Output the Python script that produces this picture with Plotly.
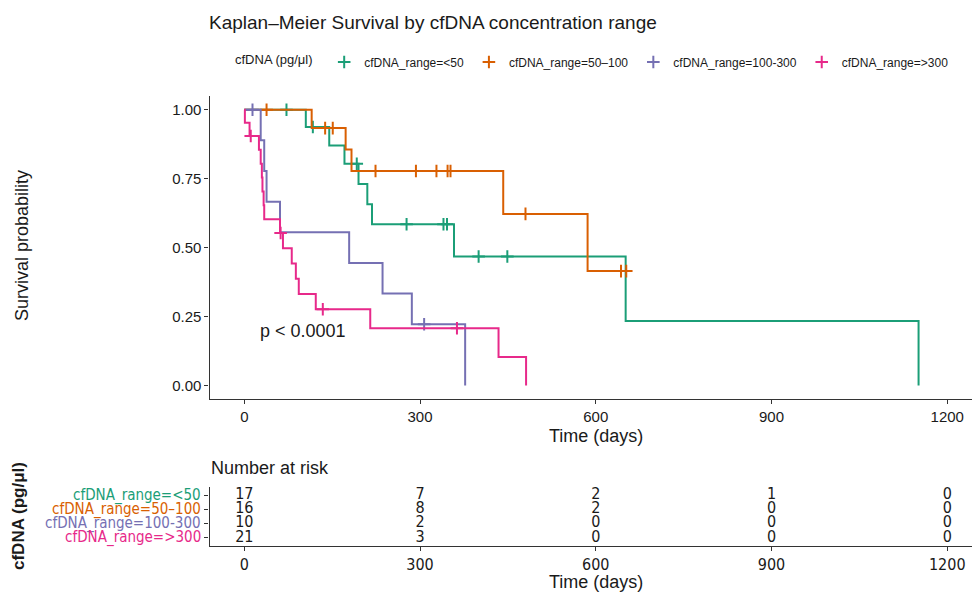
import plotly.graph_objects as go

# Groups and palette (Dark2)
groups = ["cfDNA_range=<50", "cfDNA_range=50–100", "cfDNA_range=100-300", "cfDNA_range=>300"]
colors = ["#1B9E77", "#D95F02", "#7570B3", "#E7298A"]

# Follow-up times (days): deaths and censored observations per group
lt50_event = [105, 145, 171, 195, 210, 218, 358, 651, 1151]
lt50_censor = [72, 117, 192, 277, 340, 346, 400, 449]
r50_100_event = [115, 173, 183, 442, 586]
r50_100_censor = [38, 138, 151, 224, 293, 328, 347, 352, 480, 643, 652]
r100_300_event = [28, 34, 38, 61, 179, 236, 286, 377]
r100_300_censor = [14, 307]
gt300_event = [1, 9, 25, 28, 30, 31, 33, 34, 61, 66, 81, 88, 93, 122, 215, 434, 481]
gt300_censor = [11, 62, 134, 363]

events = [lt50_event, r50_100_event, r100_300_event, gt300_event]
censors = [lt50_censor, r50_100_censor, r100_300_censor, gt300_censor]

break_times = [0, 300, 600, 900, 1200]
y_ticks = [0, 0.25, 0.5, 0.75, 1.0]
y_ticktext = ["0.00", "0.25", "0.50", "0.75", "1.00"]
p_label = "p < 0.0001"

FONT = "Liberation Sans, Arial, sans-serif"
NARROW = "Liberation Sans Narrow, Arial Narrow, DejaVu Sans Condensed, Liberation Sans, sans-serif"
AXIS_COL = "#333333"
TXT_COL = "#1a1a1a"

W, H = 972, 592


def km(ev, ce):
    """Kaplan-Meier estimate: step points and censor-mark positions."""
    times = sorted(set(ev) | set(ce))
    n = len(ev) + len(ce)
    s = 1.0
    xs, ys, cx, cy = [0], [1.0], [], []
    for t in times:
        d = ev.count(t)
        c = ce.count(t)
        if d:
            s *= 1 - d / n
            xs.append(t)
            ys.append(s)
        if c:
            cx += [t] * c
            cy += [s] * c
        n -= d + c
    last = max(times)
    if xs[-1] < last:
        xs.append(last)
        ys.append(s)
    return xs, ys, cx, cy


def at_risk(ev, ce, t):
    return sum(1 for v in ev + ce if v >= t)


fig = go.Figure()

cross = lambda col: dict(symbol="cross-thin", size=9, line=dict(color=col, width=2))

for g, col, ev, ce in zip(groups, colors, events, censors):
    xs, ys, cx, cy = km(ev, ce)
    fig.add_trace(go.Scatter(x=xs, y=ys, mode="lines", line=dict(color=col, width=2, shape="hv"),
                             showlegend=False, xaxis="x", yaxis="y"))
    fig.add_trace(go.Scatter(x=cx, y=cy, mode="markers", marker=cross(col),
                             showlegend=False, xaxis="x", yaxis="y"))
    # legend key
    fig.add_trace(go.Scatter(x=[None], y=[None], mode="markers", name=g, marker=cross(col),
                             showlegend=True, xaxis="x", yaxis="y"))

# Number-at-risk table
rows = [4, 3, 2, 1]
for g, col, ev, ce, r in zip(groups, colors, events, censors, rows):
    counts = [at_risk(ev, ce, t) for t in break_times]
    fig.add_trace(go.Scatter(x=break_times, y=[r] * len(break_times), mode="text",
                             text=[str(c) for c in counts],
                             textfont=dict(family=NARROW, size=16, color=TXT_COL),
                             textposition="middle center", cliponaxis=False,
                             showlegend=False, xaxis="x2", yaxis="y2"))

x_dom = [209.5 / W, 1.0]
x_rng = [-59.4, 1242.2]
axis_common = dict(showline=True, linecolor=AXIS_COL, linewidth=1.3, ticks="outside", ticklen=4,
                   tickcolor=AXIS_COL, tickwidth=1, showgrid=False, zeroline=False)


def label(text, x, y, size=18, angle=0, family=FONT, color=TXT_COL, xanchor="center"):
    return dict(text=text, x=x / W, y=1 - y / H, xref="paper", yref="paper",
                xanchor=xanchor, yanchor="middle", textangle=angle, showarrow=False,
                font=dict(family=family, size=size, color=color))


annotations = [
    label("Survival probability", 22, 246, angle=-90),
    label("Time (days)", 596, 436),
    label("Number at risk", 209, 468, xanchor="left"),
    label("<b>cfDNA (pg/μl)</b>", 18, 516, size=17, angle=-90),
    label("Time (days)", 596, 582),
    dict(text=p_label, x=24, y=0.198, xref="x", yref="y", xanchor="left", yanchor="middle",
         showarrow=False, font=dict(family=FONT, size=18, color=TXT_COL)),
]
for g, col, r in zip(groups, colors, rows):
    annotations.append(dict(text=g, x=203 / W, y=r, xref="paper", yref="y2", xanchor="right",
                            yanchor="middle", showarrow=False,
                            font=dict(family=NARROW, size=15, color=col)))

fig.update_layout(
    width=W, height=H, autosize=False,
    margin=dict(l=0, r=0, t=0, b=0),
    paper_bgcolor="white", plot_bgcolor="white",
    font=dict(family=FONT, color=TXT_COL),
    title=dict(text="Kaplan–Meier Survival by cfDNA concentration range", x=209 / W, xanchor="left",
               y=1 - 22 / H, yanchor="middle", font=dict(family=FONT, size=19, color=TXT_COL)),
    legend=dict(orientation="h", x=233 / W, xanchor="left", y=1 - 62 / H, yanchor="middle",
                title=dict(text="cfDNA (pg/μl) ", font=dict(family=FONT, size=13, color=TXT_COL)),
                font=dict(family=FONT, size=12, color=TXT_COL), itemwidth=30,
                bgcolor="rgba(0,0,0,0)"),
    xaxis=dict(domain=x_dom, range=x_rng, tickvals=break_times, anchor="y",
               tickfont=dict(family=FONT, size=15, color=TXT_COL), **axis_common),
    yaxis=dict(domain=[(H - 399.3) / H, (H - 95.9) / H], range=[-0.05, 1.05], anchor="x",
               tickvals=y_ticks, ticktext=y_ticktext,
               tickfont=dict(family=FONT, size=15, color=TXT_COL), **axis_common),
    xaxis2=dict(domain=x_dom, range=x_rng, tickvals=break_times, anchor="y2",
                tickfont=dict(family=NARROW, size=16, color=TXT_COL), **axis_common),
    yaxis2=dict(domain=[(H - 546) / H, (H - 486.5) / H], range=[0.4, 4.6], anchor="x2",
                tickvals=rows, ticktext=["", "", "", ""], **axis_common),
    annotations=annotations,
)

fig.write_html("out.html")
